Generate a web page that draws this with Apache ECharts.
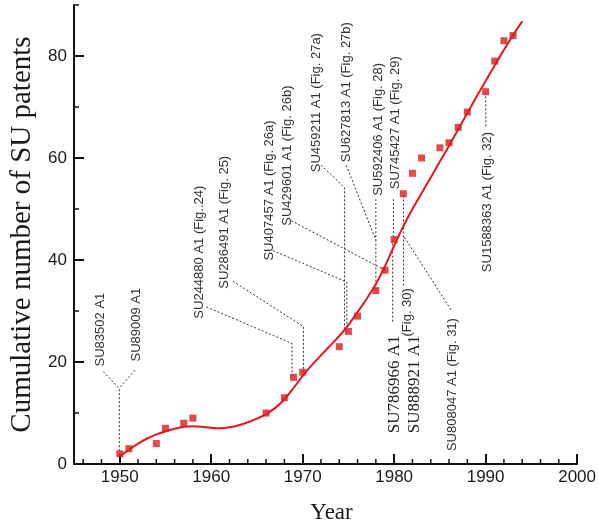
<!DOCTYPE html>
<html><head><meta charset="utf-8">
<script src="https://cdn.jsdelivr.net/npm/echarts@6/dist/echarts.min.js"></script>
<style>html,body{margin:0;padding:0;background:#fff}#c{width:599px;height:529px}</style>
</head><body><div id="c"></div>
<script>
// ---- data ----
const patentYears = [1950,1951,1954,1955,1957,1958,1966,1968,1969,1970,1974,1975,1976,1978,1979,1980,1981,1982,1983,1985,1986,1987,1988,1990,1991,1992,1993];
const patentCounts = [2,3,4,7,8,9,10,13,17,18,23,26,29,34,38,44,53,57,60,62,63,66,69,73,79,83,84];

const fitYears = [1950,1951,1952,1953,1954,1955,1956,1957,1958,1959,1960,1961,1962,1963,1964,1965,1966,1967,1968,1969,1970,1971,1972,1973,1974,1975,1976,1977,1978,1979,1980,1981,1982,1983,1984,1985,1986,1987,1988,1989,1990,1991,1992,1993,1994];
const fitValues = [1.5,2.8,4.0,5.0,5.8,6.4,6.9,7.3,7.4,7.3,7.1,7.0,7.2,7.6,8.2,8.9,9.8,11.0,12.7,14.9,17.3,19.4,21.3,23.2,25.1,27.3,29.8,32.4,35.3,38.8,42.8,46.6,50.0,53.1,56.2,59.3,62.4,65.6,68.8,72.0,75.1,78.2,81.2,84.1,86.8];

const xMajorTicks = [1950,1960,1970,1980,1990,2000];
const xMinorTicks = [1946,1948,1952,1954,1956,1958,1962,1964,1966,1968,1972,1974,1976,1978,1982,1984,1986,1988,1992,1994,1996,1998];
const yMajorTicks = [0,20,40,60,80];
const yMinorTicks = [10,30,50,70,90];

// annotations (text start anchor in data units, leader polylines in data units)
const noteTexts = ['SU83502 A1','SU89009 A1','SU244880 A1 (Fig..24)','SU286491 A1 (Fig. 25)','SU407457 A1 (Fig. 26a)','SU429601 A1 (Fig. 26b)','SU459211 A1 (Fig. 27a)','SU627813 A1 (Fig. 27b)','SU592406 A1 (Fig. 28)','SU745427 A1 (Fig. 29)','SU786966 A1','(Fig. 30)','SU888921 A1','SU808047 A1 (Fig. 31)','SU1588363 A1 (Fig. 32)'];
const noteYears = [1947.84,1951.77,1958.7,1961.4,1966.31,1968.38,1971.48,1974.76,1978.31,1980.14,1980.03,1981.48,1982.21,1986.32,1990.21];
const noteValues = [19.13,20.1,28.5,34.36,39.89,46.72,57.2,59.16,52.58,53.88,6.05,25,6.05,2.54,37.62];
const noteLarge = [0,0,0,0,0,0,0,0,0,0,1,0,1,0,0];
const noteLeaders = [
  [[1948.2,18.1],[1949.95,14.84],[1949.95,2]],
  [[1951.66,18.4],[1949.95,14.84]],
  [[1959.48,30.8],[1968.84,23.62],[1968.84,17]],
  [[1962.38,35.83],[1970.08,26.94],[1970.08,18]],
  [[1966.75,41.84],[1974.82,35.67],[1974.82,26]],
  [[1968.76,47.7],[1979,38]],
  [[1972.03,58.57],[1974.57,54.22],[1974.57,26]],
  [[1974.76,58.57],[1978.0,43.93],[1978.0,34]],
  [[1978.0,51.93],[1978.0,43.93]],
  [[1979.92,51.93],[1979.92,44]],
  [[1979.84,27.92],[1979.84,44]],
  [[1981.03,35],[1981.03,53]],
  [],
  [[1986.21,30.26],[1981.12,44.46]],
  [[1990.03,66.2],[1990,73]]
];

// ---- chart ----
const chart = echarts.init(document.getElementById('c'), null, {renderer:'canvas'});
const axisColor = '#111';
const sans = '"Liberation Sans", Arial, sans-serif';
const serif = '"Liberation Serif", "Times New Roman", serif';
const X_MIN = 1945, X_MAX = 2000, Y_MIN = 0, Y_MAX = 90;

function minorTickSeries(values, isX) {
  return {
    type: 'custom', clip: false, silent: true, z: 5,
    data: values.map(v => isX ? [v, Y_MIN] : [X_MIN, v]),
    encode: {x: 0, y: 1},
    renderItem: function (params, api) {
      const p = api.coord([api.value(0), api.value(1)]);
      const q = isX ? [p[0], p[1] - 5] : [p[0] + 5, p[1]];
      return {type: 'line', shape: {x1: p[0], y1: p[1], x2: q[0], y2: q[1]},
        style: {stroke: axisColor, lineWidth: 1.5}};
    }
  };
}

chart.setOption({
  animation: false,
  backgroundColor: '#fff',
  grid: {left: 74, right: 21, top: 5, bottom: 63, containLabel: false},
  xAxis: {
    type: 'value', min: X_MIN, max: X_MAX,
    axisLine: {onZero: false, lineStyle: {color: axisColor, width: 2}},
    axisTick: {inside: true, length: 10, customValues: xMajorTicks, lineStyle: {color: axisColor, width: 2}},
    axisLabel: {customValues: xMajorTicks, formatter: v => String(v), color: '#1a1a1a', fontSize: 17, fontFamily: sans, margin: 5},
    splitLine: {show: false},
    name: 'Year', nameLocation: 'middle', nameGap: 37,
    nameTextStyle: {fontFamily: serif, fontSize: 23, color: '#1a1a1a', padding: [0,0,0,12]}
  },
  yAxis: {
    type: 'value', min: Y_MIN, max: Y_MAX,
    axisLine: {show: true, onZero: false, lineStyle: {color: axisColor, width: 2}},
    axisTick: {show: true, inside: true, length: 10, customValues: yMajorTicks, lineStyle: {color: axisColor, width: 2}},
    axisLabel: {customValues: yMajorTicks, formatter: v => String(v), color: '#1a1a1a', fontSize: 17, fontFamily: sans, margin: 7},
    splitLine: {show: false},
    name: 'Cumulative number of SU patents', nameLocation: 'middle', nameGap: 37,
    nameTextStyle: {fontFamily: serif, fontSize: 29, color: '#1a1a1a'}
  },
  series: [
    minorTickSeries(xMinorTicks, true),
    minorTickSeries(yMinorTicks, false),
    {
      type: 'custom', name: 'notes', clip: false, silent: true, z: 1,
      data: noteTexts.map((t, i) => [noteYears[i], noteValues[i]]),
      encode: {x: 0, y: 1},
      renderItem: function (params, api) {
        const i = params.dataIndex;
        const children = [];
        const pts = noteLeaders[i].map(p => api.coord(p));
        if (pts.length) {
          children.push({type: 'polyline', shape: {points: pts},
            style: {stroke: '#333', lineWidth: 1, lineDash: [2, 2], fill: null}});
        }
        const a = api.coord([api.value(0), api.value(1)]);
        children.push({type: 'text', x: a[0], y: a[1], rotation: Math.PI / 2,
          style: {text: noteTexts[i],
            font: noteLarge[i] ? ('17px ' + serif) : ('13px ' + sans),
            fill: noteLarge[i] ? '#222' : '#333', align: 'left', verticalAlign: 'middle'}});
        return {type: 'group', children: children};
      }
    },
    {
      type: 'line', name: 'fit', z: 3,
      data: fitYears.map((y, i) => [y, fitValues[i]]),
      smooth: 0.4, showSymbol: false, symbol: 'none',
      lineStyle: {color: '#e8161c', width: 2}
    },
    {
      type: 'scatter', name: 'patents', z: 4,
      data: patentYears.map((y, i) => [y, patentCounts[i]]),
      symbol: 'rect', symbolSize: 7,
      itemStyle: {color: '#d91c1f'}
    }
  ]
});
</script>
</body></html>
